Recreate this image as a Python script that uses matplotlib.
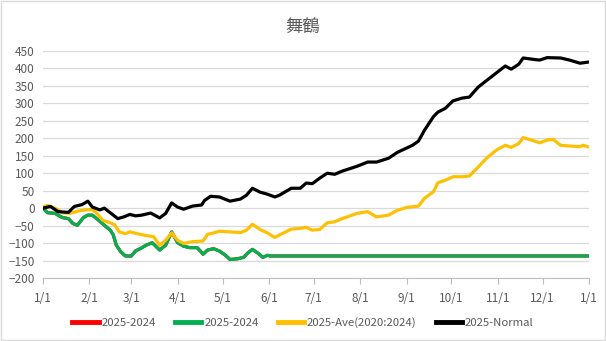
import matplotlib.pyplot as plt
from matplotlib.patches import Rectangle

plt.rcParams['font.family'] = ['Noto Sans CJK JP', 'DejaVu Sans']

# day of year (0 = 1/1) and values
normal_days = [0, 5, 10, 17, 21, 26, 30, 33, 38, 41, 47, 50, 54, 58, 62, 66, 72, 78, 82, 86,
               90, 94, 100, 106, 108, 112, 118, 125, 132, 136, 140, 145, 150, 155, 158, 166,
               172, 176, 180, 185, 190, 195, 200, 210, 217, 223, 231, 237, 243, 247, 251, 255,
               261, 264, 269, 274, 280, 285, 291, 297, 303, 309, 313, 318, 321, 328, 332, 337,
               346, 352, 359, 364]
normal_vals = [0, 5, -10, -12, 5, 10, 20, 3, -5, 0, -20, -30, -25, -18, -22, -20, -14, -28, -15, 15,
               3, -3, 6, 9, 22, 34, 32, 20, 26, 37, 57, 46, 40, 32, 37, 57,
               57, 72, 70, 86, 100, 97, 106, 120, 132, 132, 143, 160, 172, 180, 192, 223,
               262, 275, 286, 307, 315, 318, 347, 367, 387, 407, 398, 412, 430, 426, 424, 431,
               430, 424, 415, 418]

ave_days = [0, 3, 8, 13, 18, 24, 28, 33, 36, 40, 45, 48, 51, 55, 58, 62, 66, 74, 78, 82,
            86, 90, 94, 100, 107, 110, 114, 118, 125, 132, 136, 140, 145, 150, 155, 158,
            166, 172, 176, 180, 185, 190, 195, 200, 210, 217, 223, 231, 237, 243, 247, 251,
            255, 261, 264, 269, 274, 280, 285, 291, 297, 303, 309, 313, 318, 321, 328, 332,
            337, 341, 346, 352, 359, 361, 364]
ave_vals = [3, 8, 0, -13, -15, -8, -5, -4, -15, -35, -42, -48, -68, -73, -68, -72, -76, -82, -106, -92,
            -71, -92, -101, -96, -94, -75, -71, -66, -68, -70, -63, -46, -61, -71, -84, -77,
            -60, -58, -55, -63, -61, -42, -39, -30, -15, -10, -25, -20, -6, 2, 4, 6,
            28, 47, 73, 80, 90, 90, 92, 118, 145, 166, 180, 174, 185, 202, 193, 187,
            195, 197, 180, 178, 176, 180, 176]

y2024_days = [0, 3, 8, 13, 17, 20, 23, 27, 30, 33, 37, 41, 45, 47, 49, 52, 55, 59, 62, 65,
              69, 73, 78, 82, 86, 90, 94, 98, 103, 105, 107, 110, 114, 118, 122, 125, 130,
              134, 137, 140, 144, 147, 150, 152, 364]
y2024_vals = [0, -13, -15, -27, -30, -44, -49, -27, -20, -20, -34, -49, -63, -77, -106, -125, -137, -137, -122, -116,
              -106, -99, -120, -106, -68, -99, -109, -113, -113, -122, -132, -120, -116, -123, -135, -147, -145,
              -141, -128, -118, -130, -141, -135, -137, -137]

month_ticks = [0, 31, 59, 90, 120, 151, 181, 212, 243, 273, 304, 334, 365]
month_labels = ['1/1', '2/1', '3/1', '4/1', '5/1', '6/1', '7/1', '8/1', '9/1', '10/1', '11/1', '12/1', '1/1']

fig = plt.figure(figsize=(6.06, 3.41), dpi=100)
ax = fig.add_axes([43 / 606, 1 - 278 / 341, (589 - 43) / 606, (278 - 51) / 341])

lw = 2.3
ax.plot(y2024_days, y2024_vals, color='#ff0000', lw=lw, label='2025-2024')
ax.plot(y2024_days, y2024_vals, color='#00b050', lw=lw, label='2025-2024')
ax.plot(ave_days, ave_vals, color='#ffc000', lw=lw, label='2025-Ave(2020:2024)')
ax.plot(normal_days, normal_vals, color='#000000', lw=lw, label='2025-Normal')

ax.set_xlim(0, 365)
ax.set_ylim(-200, 450)
ax.set_yticks(range(-200, 451, 50))
ax.set_xticks(month_ticks)
ax.set_xticklabels(month_labels)
ax.grid(axis='y', color='#d9d9d9', lw=0.9)
ax.set_axisbelow(True)
for s in ['top', 'right', 'left']:
    ax.spines[s].set_visible(False)
ax.spines['bottom'].set_color('#bfbfbf')
ax.tick_params(axis='y', length=0, labelsize=8.5, labelcolor='#595959', pad=6)
ax.tick_params(axis='x', length=4, color='#bfbfbf', labelsize=8.5, labelcolor='#595959', pad=6)

fig.text(0.5, 1 - 27 / 341, '舞鶴', ha='center', va='center', fontsize=12.5, color='#595959')

leg = fig.legend(loc='center', bbox_to_anchor=(0.5, 1 - 323 / 341), ncol=4, frameon=False,
                 fontsize=8.2, handlelength=2.3, handletextpad=0.25, columnspacing=1.7)
for t in leg.get_texts():
    t.set_color('#595959')
for h in leg.get_lines():
    h.set_linewidth(3.5)

fig.patches.append(Rectangle((0.002, 0.003), 0.996, 0.994, transform=fig.transFigure,
                             fill=False, edgecolor='#d9d9d9', lw=1))

fig.savefig('out.png', dpi=100)
